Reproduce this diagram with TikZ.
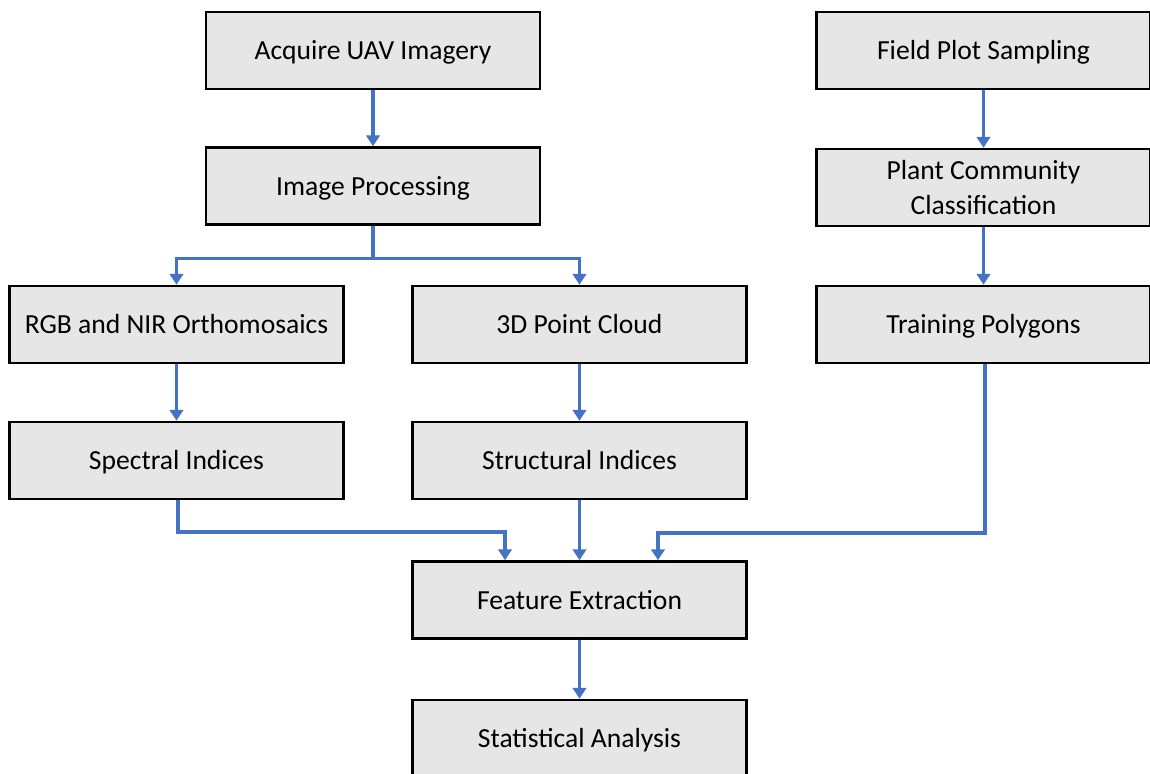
\documentclass[tikz,border=0pt]{standalone}
\usepackage{fontspec}
\setmainfont{Carlito}
\usepackage{xcolor}
\usepackage{tikz}
\usetikzlibrary{positioning, arrows.meta}
\definecolor{flowblue}{HTML}{4472C4}
\definecolor{boxgray}{HTML}{E6E6E6}

\begin{document}
\begin{tikzpicture}[x=0.02cm, y=-0.02cm,
        process/.style={
                draw=black,
                line width=0.05cm,
                fill=boxgray,
                minimum width=6.68cm,
                minimum height=1.54cm,
                inner sep=0pt,
                text height=0.36cm,
                text depth=0pt,
                align=center,
                font=\fontsize{15.7}{19.5}\selectfont,
        },
        flow/.style={
                draw=flowblue,
                line width=0.07cm,
                -{Triangle[length=0.22cm, width=0.27cm]},
        }]
            \useasboundingbox (0, 0) rectangle (1150, 774);
            % left column
            \node[process] (acquire) at (373, 50.5) {Acquire UAV Imagery};
            \node[process] (imgproc) at (373, 186) {Image Processing};
            \node[process] (ortho) at (176.5, 324.5) {RGB and NIR Orthomosaics};
            \node[process] (cloud) at (579.5, 324.5) {3D Point Cloud};
            \node[process] (spectral) at (176.5, 460.5) {Spectral Indices};
            \node[process] (struct) at (579.5, 460.5) {Structural Indices};
            \node[process] (feature) at (579.5, 600) {Feature Extraction};
            \node[process] (stats) at (579.5, 738.5) {Statistical Analysis};
            % right column
            \node[process] (field) at (983.5, 50.5) {Field Plot Sampling};
            \node[process, text height=, text depth=] (plant) at (983.5, 187.5) {Plant Community\\Classification};
            \node[process] (train) at (983.5, 324.5) {Training Polygons};

            \draw[flow] (acquire) -- (imgproc);
            \draw[flow] (imgproc.south) -- ++(0, 33) -| (ortho.north);
            \draw[flow] (imgproc.south) -- ++(0, 33) -| (cloud.north);
            \draw[flow] (ortho) -- (spectral);
            \draw[flow] (cloud) -- (struct);
            \draw[flow] ([xshift=0.03cm]spectral.south) -- ++(0, 32) -| ([xshift=-1.49cm]feature.north);
            \draw[flow] (struct) -- (feature);
            \draw[flow] (field) -- (plant);
            \draw[flow] (plant) -- (train);
            \draw[flow] ([xshift=0.03cm]train.south) -- ++(0, 169) -| ([xshift=1.57cm]feature.north);
            \draw[flow] (feature) -- (stats);
        \end{tikzpicture}
\end{document}
